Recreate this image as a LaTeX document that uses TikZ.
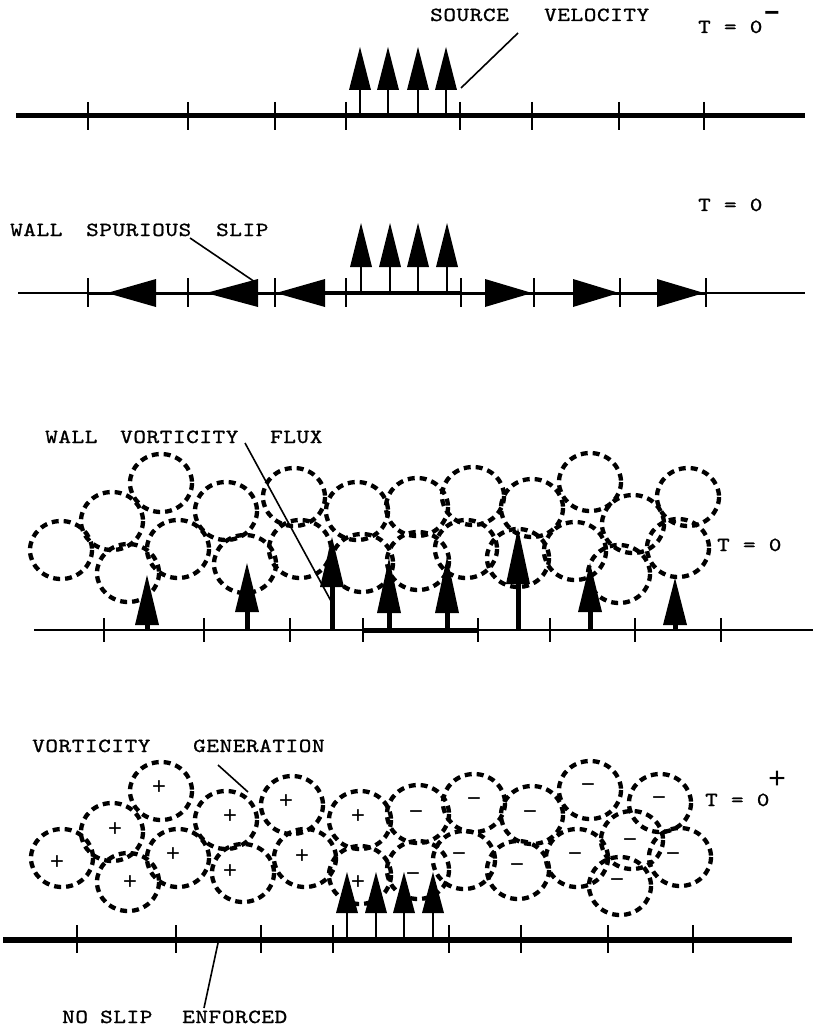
\documentclass[tikz,border=0pt]{standalone}
\usepackage{fontspec}
\newfontfamily\labelfont[FakeStretch=1.2,LetterSpace=3,FakeBold=1]{lmmono10-regular.otf}
\newfontfamily\signfont{Liberation Mono}
\newcommand\uparr[6]{% x, tip, head base, line y, shaft width, half head width
  \draw[line width=#5] (#1,#3-2) -- (#1,#4);
  \fill (#1,#2) -- (#1-#6,#3) -- (#1+#6,#3) -- cycle;}
\newcommand\htri[3]{% tip x, base x, y
  \fill (#1,#3) -- (#2,#3-14) -- (#2,#3+14) -- cycle;}
\begin{document}
\begin{tikzpicture}[x=1pt,y=-1pt,
  txt/.style={font=\labelfont\fontsize{20}{24}\selectfont, inner sep=0pt, anchor=base west},
  sgn/.style={font=\signfont\fontsize{24}{26}\selectfont, inner sep=0pt},
  sup/.style={font=\signfont\fontsize{30}{32}\selectfont, inner sep=0pt},
  blob/.style={line width=4.3pt, dash pattern=on 7pt off 5pt},
  tickmark/.style={line width=1.6pt},
  leader/.style={line width=1.6pt}]
\fill[white] (0,0) rectangle (813,1027);
\useasboundingbox (0,0) rectangle (813,1027);

% ---------------- Panel 1 ----------------
\draw[line width=5pt] (16,116) -- (805,116);
\foreach \x in {88,188,275,346,460,532,619,704} \draw[tickmark] (\x,102) -- (\x,130);
\foreach \x in {360,388,418,446} {\uparr{\x}{47}{90}{114}{2pt}{11}}
\node[txt] (src) at (430,21) {SOURCE};
\node[txt] (vel) at (544,21) {VELOCITY};
\node[txt] (t1) at (698,33) {T = 0};
\node[sup, font=\signfont\bfseries\fontsize{26}{28}\selectfont] (m1) at (772,16) {−};
\coordinate (l1a) at (518,33);
\coordinate (l1b) at (461,88);
\draw[leader] (l1a) -- (l1b);

% ---------------- Panel 2 ----------------
\draw[line width=2pt] (18,293) -- (805,293);
\draw[line width=3pt] (88,293) -- (706,293);
\draw[line width=4.5pt] (325,293) -- (461,293);
\foreach \x in {88,188,275,346,461,534,620,706} \draw[tickmark] (\x,278) -- (\x,307);
\htri{107}{156}{293}
\htri{206}{258}{293}
\htri{276}{325}{293}
\htri{532}{485}{293}
\htri{619}{573}{293}
\htri{704}{657}{293}
\foreach \x in {361,390,418,447} {\uparr{\x}{223}{267}{292}{2pt}{11}}
\node[txt] (t2) at (698,211) {T = 0};
\node[txt] (wall2) at (10,236) {WALL};
\node[txt] (spur) at (86,236) {SPURIOUS};
\node[txt] (slip2) at (216,236) {SLIP};
\coordinate (l2a) at (190,238);
\coordinate (l2b) at (255,282);
\draw[leader] (l2a) -- (l2b);

% ---------------- Panel 3 ----------------
\foreach \x/\y in {61/550,112/521,161/483,128/573,178/549,226/511,245/564,294/497,300/549,357/511,362/563,417/507,418/561,473/496,466/549,532/508,518/558,590/482,575/551,633/524,619/574,688/497,678/548}
  \draw[blob] (\x,\y) ellipse [x radius=31, y radius=29];
\draw[line width=2.5pt] (34,630) -- (813,630);
\draw[line width=5pt] (362,630) -- (477,630);
\foreach \x in {104,204,290,363,478,550,635,721} \draw[tickmark] (\x,618) -- (\x,642);
\uparr{147}{575}{625}{630}{5pt}{12}
\uparr{247}{563}{612}{630}{5pt}{12}
\uparr{332}{537}{587}{630}{5pt}{12}
\uparr{389}{558}{613}{630}{5pt}{12}
\uparr{447}{557}{613}{630}{5pt}{12}
\uparr{518}{528}{584}{630}{5pt}{12}
\uparr{590}{563}{612}{630}{5pt}{12}
\uparr{675}{578}{625}{630}{5pt}{12}
\node[txt] (wall3) at (45,443) {WALL};
\node[txt] (vort3) at (120,443) {VORTICITY};
\node[txt] (flux) at (270,443) {FLUX};
\node[txt] (t3) at (717,551) {T = 0};
\coordinate (l3a) at (245,443);
\coordinate (l3b) at (331,601);
\draw[leader] (l3a) -- (l3b);

% ---------------- Panel 4 ----------------
\foreach \x/\y in {62/858,112/832,161/791,128/882,178/858,226/820,243/873,292/805,305/858,360/820,360/875,418/814,418/870,474/803,464/860,532/815,518/870,590/790,577/858,632/840,620/886,660/803,680/857}
  \draw[blob] (\x,\y) ellipse [x radius=31, y radius=29];
\foreach \x/\y in {57/863,115/830,159/788,130/883,173/855,230/817,230/872,286/802,302/857,358/817,358/883}
  \node[sgn] at (\x,\y) {+};
\foreach \x/\y in {416/815,413/877,474/802,459/857,530/815,517/868,588/788,575/857,630/843,617/883,659/801,673/857}
  \node[sgn] at (\x,\y) {−};
\draw[line width=6pt] (3,940) -- (792,940);
\foreach \x in {77,176,261,333,449,521,608,693} \draw[tickmark] (\x,925) -- (\x,953);
\foreach \x in {347,376,404,433} {\uparr{\x}{872}{913}{938}{2pt}{11}}
\node[txt] (vort4) at (32,752) {VORTICITY};
\node[txt] (gen) at (193,752) {GENERATION};
\node[txt] (t4) at (705,806) {T = 0};
\node[sup] (p4) at (777,780) {+};
\node[txt] (no) at (62,1023) {NO};
\node[txt] (slip4) at (100,1023) {SLIP};
\node[txt] (enf) at (182,1023) {ENFORCED};
\coordinate (l4a) at (218,765);
\coordinate (l4b) at (248,792);
\draw[leader] (l4a) -- (l4b);
\coordinate (l5a) at (218,943);
\coordinate (l5b) at (204,1008);
\draw[leader] (l5a) -- (l5b);
\end{tikzpicture}
\end{document}
